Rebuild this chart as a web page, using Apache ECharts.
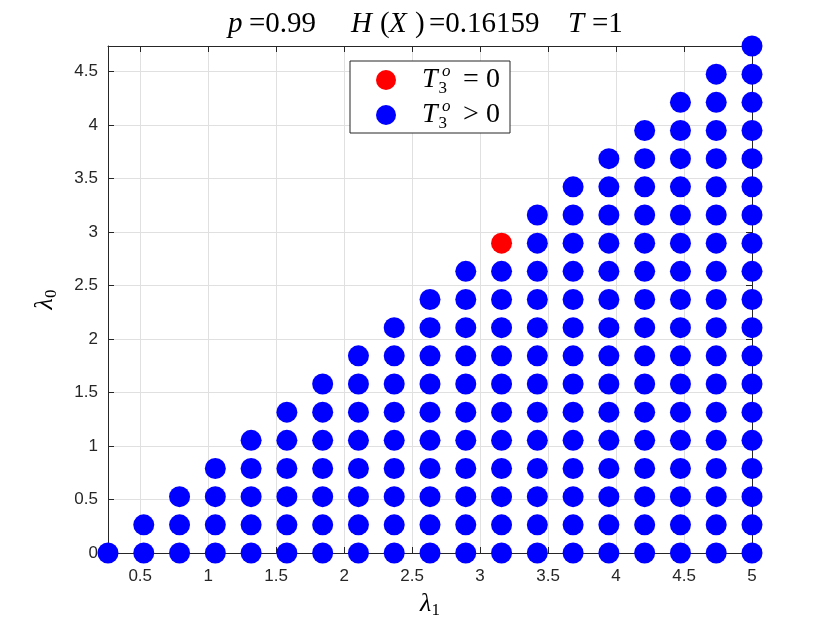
<!DOCTYPE html>
<html>
<head>
<meta charset="utf-8">
<script src="https://cdn.jsdelivr.net/npm/echarts@6/dist/echarts.min.js"></script>
<style>html,body{margin:0;padding:0;background:#fff}#c{width:830px;height:623px}</style>
</head>
<body>
<div id="c"></div>
<script>
// lattice values (lambda_1 columns, lambda_0 rows)
const lambda1Values = [0.2632, 0.5263, 0.7895, 1.0526, 1.3158, 1.5789, 1.8421, 2.1053, 2.3684, 2.6316,
                       2.8947, 3.1579, 3.4211, 3.6842, 3.9474, 4.2105, 4.4737, 4.7368, 5.0000];
const lambda0Values = [0, 0.2632, 0.5263, 0.7895, 1.0526, 1.3158, 1.5789, 1.8421, 2.1053, 2.3684,
                       2.6316, 2.8947, 3.1579, 3.4211, 3.6842, 3.9474, 4.2105, 4.4737, 4.7368];
// number of points in each column (bottom-up)
const columnCounts = [1, 2, 3, 4, 5, 6, 7, 8, 9, 10, 11, 12, 13, 14, 15, 16, 17, 18, 19];
// the single red point
const zeroPoints = [[3.1579, 2.8947]];
const xTicks = [0.5, 1, 1.5, 2, 2.5, 3, 3.5, 4, 4.5, 5];
const yTicks = [0, 0.5, 1, 1.5, 2, 2.5, 3, 3.5, 4, 4.5];
const titleParts = {p: '0.99', H: '0.16159', T: '1'};

const positivePoints = [];
columnCounts.forEach((n, i) => {
  for (let j = 0; j < n; j++) {
    const pt = [lambda1Values[i], lambda0Values[j]];
    if (!zeroPoints.some(z => Math.abs(z[0] - pt[0]) < 1e-6 && Math.abs(z[1] - pt[1]) < 1e-6)) positivePoints.push(pt);
  }
});

const AX = '#262626';
const serif = '"Liberation Serif", "DejaVu Serif", serif';
const sans = '"Liberation Sans", Arial, Helvetica, sans-serif';
const isTick = (v, list) => list.some(t => Math.abs(t - v) < 1e-6);

const TS = 29;
const ti = (w, extra) => Object.assign({fontFamily: serif, fontStyle: 'italic', fontWeight: 'normal', fontSize: TS, color: '#000', width: w, align: 'left'}, extra || {});
const tn = (w, extra) => Object.assign({fontFamily: serif, fontStyle: 'normal', fontWeight: 'normal', fontSize: TS, color: '#000', width: w, align: 'left'}, extra || {});

const LS = 28;
const chart = echarts.init(document.getElementById('c'), null, {renderer: 'canvas'});
const option = {
  backgroundColor: '#fff',
  animation: false,
  title: {
    left: 223, top: 5,
    text: '{p|p}{pv|=' + titleParts.p + '}{H|H}{lp|(}{X|X}{rp|)}{hv|=' + titleParts.H + '}{T|T}{tv|=' + titleParts.T + '}',
    textStyle: {
      fontWeight: 'normal',
      rich: {
        p: ti(21), pv: tn(102), H: ti(29), lp: tn(9), X: ti(26), rp: tn(10),
        hv: tn(139, {padding: [0, 0, 0, 4]}), T: ti(24), tv: tn(40)
      }
    }
  },
  grid: {left: 108, right: 78, top: 46, bottom: 70, containLabel: false, outerBoundsMode: 'none'},
  legend: {
    orient: 'vertical', left: 350, top: 61,
    backgroundColor: '#fff', borderColor: AX, borderWidth: 1,
    padding: [2, 10, 1, 26],
    itemWidth: 20, itemHeight: 20, itemGap: 1,
    icon: 'circle',
    data: ['zero', 'pos'],
    formatter: name => name === 'zero'
      ? '{T|T}{sup|o}{sub|3}{e|=}{z|0}'
      : '{T|T}{sup|o}{sub|3}{e|>}{z|0}',
    textStyle: {
      padding: [0, 0, 0, 21],
      rich: {
        T: {fontFamily: serif, fontStyle: 'italic', fontSize: LS, color: '#000', lineHeight: 34, width: 16, align: 'left'},
        sup: {fontFamily: serif, fontStyle: 'italic', fontSize: 17, color: '#000', verticalAlign: 'top', padding: [0, 0, 0, 4]},
        sub: {fontFamily: serif, fontSize: 17, color: '#000', verticalAlign: 'bottom', padding: [0, 0, 0, -12]},
        e: {fontFamily: serif, fontSize: LS, color: '#000', width: 24, align: 'center', padding: [0, 0, 0, 12]},
        z: {fontFamily: serif, fontSize: LS, color: '#000', padding: [0, 0, 0, 3]}
      }
    }
  },
  xAxis: [{
    type: 'value', min: lambda1Values[0], max: 5, splitNumber: 10,
    position: 'bottom',
    name: '{l|λ}{s|1}', nameLocation: 'middle', nameGap: 37,
    nameTextStyle: {rich: {
      l: {fontFamily: serif, fontStyle: 'italic', fontSize: 26, color: '#000'},
      s: {fontFamily: serif, fontSize: 17, color: '#000', verticalAlign: 'bottom', padding: [12, 0, 0, 0]}
    }},
    axisLine: {show: true, onZero: false, lineStyle: {color: AX, width: 1}},
    axisTick: {show: true, inside: true, length: 6, lineStyle: {color: AX}},
    axisLabel: {color: AX, fontFamily: sans, fontSize: 17, margin: 15,
      formatter: v => isTick(v, xTicks) ? String(+v.toFixed(2)) : ''},
    splitLine: {show: true, lineStyle: {color: '#e0e0e0', width: 1}}
  }, {
    type: 'value', min: lambda1Values[0], max: 5, splitNumber: 10,
    position: 'top',
    axisLine: {show: true, onZero: false, lineStyle: {color: AX, width: 1}},
    axisTick: {show: true, inside: true, length: 6, lineStyle: {color: AX}},
    axisLabel: {show: false},
    splitLine: {show: false}
  }],
  yAxis: [{
    type: 'value', min: 0, max: lambda0Values[lambda0Values.length - 1], interval: 0.5,
    position: 'left',
    name: '{l|λ}{s|0}', nameLocation: 'middle', nameGap: 48, nameRotate: 90,
    nameTextStyle: {rich: {
      l: {fontFamily: serif, fontStyle: 'italic', fontSize: 26, color: '#000'},
      s: {fontFamily: serif, fontSize: 17, color: '#000', verticalAlign: 'bottom', padding: [12, 0, 0, 0]}
    }},
    axisLine: {show: true, onZero: false, lineStyle: {color: AX, width: 1}},
    axisTick: {show: true, inside: true, length: 6, lineStyle: {color: AX}},
    axisLabel: {color: AX, fontFamily: sans, fontSize: 17, margin: 10,
      formatter: v => isTick(v, yTicks) ? String(+v.toFixed(2)) : ''},
    splitLine: {show: true, lineStyle: {color: '#e0e0e0', width: 1}}
  }, {
    type: 'value', min: 0, max: lambda0Values[lambda0Values.length - 1], interval: 0.5,
    position: 'right',
    axisLine: {show: true, onZero: false, lineStyle: {color: AX, width: 1}},
    axisTick: {show: true, inside: true, length: 6, lineStyle: {color: AX}},
    axisLabel: {show: false},
    splitLine: {show: false}
  }],
  series: [{
    name: 'zero', type: 'scatter', xAxisIndex: 0, yAxisIndex: 0,
    data: zeroPoints, symbol: 'circle', symbolSize: 21, clip: false,
    itemStyle: {color: '#ff0000', opacity: 1}, z: 3
  }, {
    name: 'pos', type: 'scatter', xAxisIndex: 0, yAxisIndex: 0,
    data: positivePoints, symbol: 'circle', symbolSize: 21, clip: false,
    itemStyle: {color: '#0000ff', opacity: 1}, z: 3
  }]
};
chart.setOption(option);
</script>
</body>
</html>
